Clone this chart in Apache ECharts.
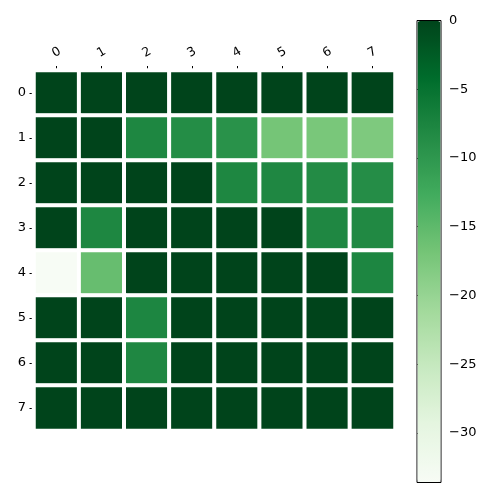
<!DOCTYPE html>
<html>
<head>
<meta charset="utf-8">
<script src="https://cdn.jsdelivr.net/npm/echarts@6/dist/echarts.min.js"></script>
<style>
  html, body { margin: 0; padding: 0; background: #fff; }
  #chart { width: 500px; height: 500px; }
</style>
</head>
<body>
<div id="chart"></div>
<script>
// heatmap values, rows top to bottom
const xLabels = ['0', '1', '2', '3', '4', '5', '6', '7']
const yLabels = ['0', '1', '2', '3', '4', '5', '6', '7']
const row0 = [0, 0, 0, 0, 0, 0, 0, 0]
const row1 = [0, 0, -7.8, -8.6, -9.3, -16.9, -17.3, -17.7]
const row2 = [0, 0, 0, 0, -7.8, -7.9, -8.4, -8.7]
const row3 = [0, -7.8, 0, 0, 0, 0, -7.9, -8.1]
const row4 = [-33.6, -15.7, 0, 0, 0, 0, 0, -7.7]
const row5 = [0, 0, -7.7, 0, 0, 0, 0, 0]
const row6 = [0, 0, -7.9, 0, 0, 0, 0, 0]
const row7 = [0, 0, 0, 0, 0, 0, 0, 0]
const rows = [row0, row1, row2, row3, row4, row5, row6, row7]

const vMin = -33.6
const vMax = 0
const cbarTicks = [0, -5, -10, -15, -20, -25, -30]
const greens = ['#f7fcf5', '#e5f5e0', '#c7e9c0', '#a1d99b', '#74c476',
  '#41ab5d', '#238b45', '#006d2c', '#00441b']

const cells = []
rows.forEach((row, y) => row.forEach((v, x) => cells.push([x, y, v])))

const font = 'DejaVu Sans'
const chart = echarts.init(document.getElementById('chart'))

const option = {
  animation: false,
  textStyle: { fontFamily: font },
  grid: [
    { left: 34, top: 70.5, width: 361, height: 360 },
    { left: 417, top: 20.5, width: 24, height: 462, show: true,
      borderColor: '#000', borderWidth: 1, backgroundColor: 'transparent' },
  ],
  xAxis: [
    {
      type: 'category', data: xLabels, position: 'top', gridIndex: 0,
      axisLine: { show: false },
      axisTick: { show: true, length: 4.5, alignWithLabel: true, lineStyle: { color: '#000' } },
      axisLabel: {
        color: '#000', fontSize: 12.5, rotate: -30, margin: 18, fontFamily: font,
        align: 'center', verticalAlign: 'middle',
      },
      splitLine: { show: false },
    },
    { type: 'value', gridIndex: 1, show: false, min: 0, max: 1 },
  ],
  yAxis: [
    {
      type: 'category', data: yLabels, inverse: true, gridIndex: 0,
      axisLine: { show: false },
      axisTick: { show: true, length: 4.5, alignWithLabel: true, lineStyle: { color: '#000' } },
      axisLabel: { color: '#000', fontSize: 13, margin: 8, fontFamily: font },
      splitLine: { show: false },
    },
    {
      type: 'value', gridIndex: 1, min: vMin, max: vMax, position: 'right',
      axisLine: { show: false },
      axisTick: { show: true, length: 4.5, customValues: cbarTicks, lineStyle: { color: '#000' } },
      axisLabel: {
        color: '#000', fontSize: 13, margin: 8, fontFamily: font,
        customValues: cbarTicks,
        formatter: v => String(v).replace('-', '\u2212'),
      },
      splitLine: { show: false },
    },
    {
      // right spine of the heatmap
      type: 'category', data: yLabels, gridIndex: 0, position: 'right',
      axisLine: { show: true, lineStyle: { color: '#000', width: 1 } },
      axisTick: { show: false },
      axisLabel: { show: false },
    },
  ],
  visualMap: {
    type: 'continuous',
    min: vMin,
    max: vMax,
    seriesIndex: 0,
    calculable: false,
    hoverLink: false,
    orient: 'vertical',
    left: 417.5,
    top: 21,
    padding: 0,
    itemWidth: 23,
    itemHeight: 461,
    text: null,
    showLabel: false,
    inRange: { color: greens },
  },
  series: [
    {
      type: 'heatmap',
      xAxisIndex: 0,
      yAxisIndex: 0,
      data: cells,
      itemStyle: { borderColor: '#fff', borderWidth: 4 },
      emphasis: { disabled: true },
    },
  ],
}

chart.setOption(option)
</script>
</body>
</html>
